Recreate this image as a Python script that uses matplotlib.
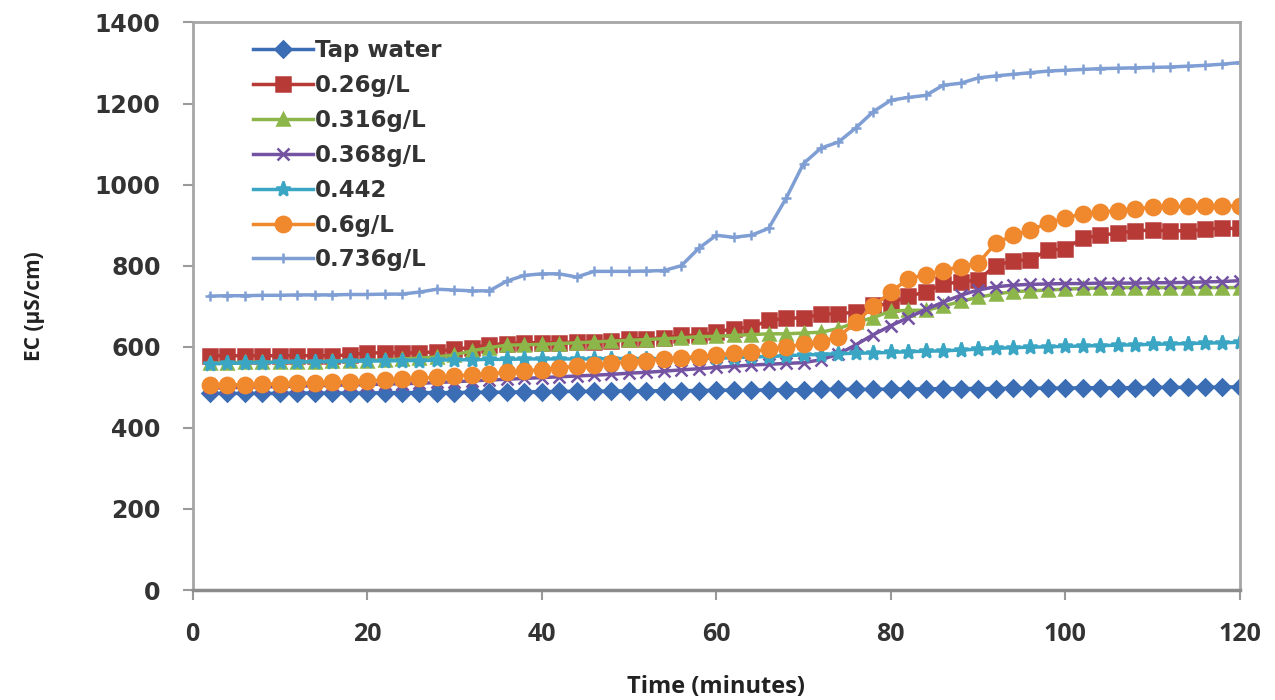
import matplotlib
matplotlib.use("Agg")
import matplotlib.pyplot as plt
import numpy as np

time_min = list(range(2, 122, 2))

tap_water = [485, 485, 485, 485, 485, 486, 486, 486, 486, 486,
             487, 487, 487, 487, 487, 488, 488, 488, 489, 489,
             490, 490, 490, 491, 491, 491, 492, 492, 492, 493,
             493, 493, 494, 494, 494, 495, 495, 495, 495, 496,
             496, 496, 497, 497, 497, 497, 498, 498, 498, 498,
             499, 499, 499, 499, 500, 500, 500, 500, 501, 501]

g026 = [578, 578, 578, 578, 578, 578, 578, 578, 580, 585,
        585, 585, 585, 588, 595, 598, 605, 608, 610, 610,
        610, 612, 612, 614, 620, 620, 622, 628, 628, 636,
        645, 648, 665, 670, 672, 680, 682, 685, 702, 706,
        725, 735, 755, 760, 765, 800, 812, 815, 838, 842,
        868, 875, 880, 886, 888, 886, 886, 890, 892, 892]

g0316 = [560, 560, 562, 562, 562, 563, 563, 565, 565, 566,
         568, 570, 572, 575, 580, 590, 598, 604, 605, 606,
         608, 610, 612, 614, 616, 618, 620, 622, 625, 626,
         628, 630, 632, 632, 634, 636, 645, 660, 672, 688,
         690, 690, 700, 712, 722, 730, 736, 738, 740, 742,
         744, 745, 746, 746, 746, 746, 746, 746, 746, 746]

g0368 = [498, 499, 500, 501, 502, 503, 504, 505, 506, 507,
         508, 509, 510, 512, 514, 516, 518, 520, 522, 524,
         526, 528, 530, 532, 535, 537, 540, 543, 546, 549,
         552, 555, 557, 559, 561, 568, 582, 605, 630, 652,
         672, 692, 710, 727, 740, 748, 752, 754, 755, 756,
         756, 757, 757, 757, 758, 758, 759, 760, 761, 763]

g0442 = [558, 559, 560, 561, 562, 562, 563, 563, 564, 565,
         565, 566, 566, 567, 568, 568, 569, 569, 570, 570,
         570, 570, 570, 571, 571, 571, 571, 572, 572, 572,
         573, 575, 576, 578, 580, 581, 583, 584, 585, 586,
         588, 589, 590, 592, 594, 596, 598, 599, 600, 601,
         602, 603, 604, 605, 606, 607, 608, 609, 610, 611]

g06 = [505, 506, 507, 508, 509, 510, 511, 512, 514, 516,
       518, 520, 522, 525, 528, 531, 534, 537, 540, 544,
       548, 552, 556, 560, 563, 566, 570, 573, 576, 580,
       584, 588, 594, 600, 606, 612, 625, 660, 700, 735,
       768, 778, 788, 798, 806, 855, 875, 888, 905, 918,
       928, 932, 936, 940, 944, 946, 946, 946, 947, 948]

g0736 = [725, 726, 726, 727, 727, 728, 728, 728, 729, 729,
         730, 730, 735, 742, 740, 738, 738, 762, 776, 780,
         780, 772, 786, 786, 786, 787, 788, 800, 843, 875,
         870, 875, 892, 966, 1052, 1090, 1105, 1140, 1180, 1208,
         1215, 1220, 1245, 1250, 1263, 1268, 1272, 1276, 1280, 1282,
         1284, 1286, 1287, 1288, 1289, 1290, 1292, 1294, 1297, 1301]

labels = ["Tap water", "0.26g/L", "0.316g/L", "0.368g/L", "0.442", "0.6g/L", "0.736g/L"]
series = [tap_water, g026, g0316, g0368, g0442, g06, g0736]
colors = ["#3B6DB5", "#B73A37", "#8DB64A", "#7453A2", "#3BA6C4", "#F0882E", "#7F9ED3"]
markers = ["D", "s", "^", "x", "*", "o", "+"]
msizes = [8, 10, 9, 8, 11, 11, 7]

yticks = [0, 200, 400, 600, 800, 1000, 1200, 1400]
xticks = [0, 20, 40, 60, 80, 100, 120]

fig = plt.figure(figsize=(12.75, 7.0), dpi=100)
ax = fig.add_axes([0.151, 0.157, 0.8215, 0.811])

for lab, ys, c, m, ms in zip(labels, series, colors, markers, msizes):
    ax.plot(time_min, ys, color=c, marker=m, markersize=ms, linewidth=2.5,
            markeredgewidth=1.8, markeredgecolor=c, markerfacecolor=c, label=lab)

ax.set_xlim(0, 120)
ax.set_ylim(0, 1400)
ax.set_xticks(xticks)
ax.set_yticks(yticks)

for s in ax.spines.values():
    s.set_color("#A6A6A6")
    s.set_linewidth(2)
ax.spines["bottom"].set_color("#8C8C8C")
ax.spines["bottom"].set_linewidth(2.5)

ax.tick_params(axis="both", direction="out", length=7, width=1.5, color="#9A9A9A",
               labelcolor="#333333")
ax.tick_params(axis="x", pad=16)
ax.tick_params(axis="y", pad=16)
for lbl in ax.get_xticklabels():
    lbl.set_fontweight("bold")
    lbl.set_family("Open Sans")
    lbl.set_fontsize(18)
for lbl in ax.get_yticklabels():
    lbl.set_fontweight("bold")
    lbl.set_family("DejaVu Sans")
    lbl.set_fontsize(17)

ax.set_xlabel("Time (minutes)", fontsize=17, fontweight="bold", family="Open Sans",
              color="#222222", labelpad=20)
ax.set_ylabel("EC (µS/cm)", fontsize=15, fontweight="bold", family="Open Sans",
              color="#222222", labelpad=36)

leg = ax.legend(loc="upper left", bbox_to_anchor=(0.045, 0.995), frameon=False,
                prop={"family": "DejaVu Sans", "weight": "bold", "size": 16.5},
                labelspacing=0.52, handlelength=2.6, handletextpad=0.1,
                borderaxespad=0.2)
for t in leg.get_texts():
    t.set_color("#333333")

fig.savefig("out.png", dpi=100, facecolor="white")
